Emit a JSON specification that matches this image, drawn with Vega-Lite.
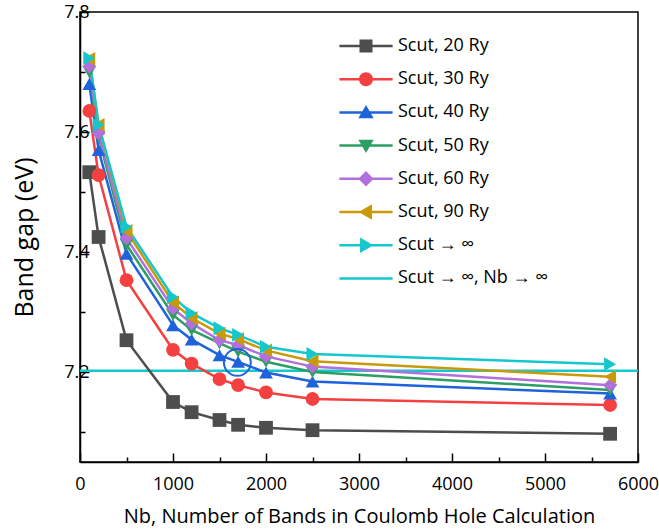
{
  "$schema": "https://vega.github.io/schema/vega-lite/v6.json",
  "autosize": {"type": "none"},
  "padding": {"left": 80, "top": 12, "right": 21, "bottom": 67},
  "width": 558,
  "height": 450,
  "background": "white",
  "config": {
    "font": "Open Sans",
    "view": {"stroke": "black", "strokeWidth": 1.5},
    "axis": {
      "grid": false,
      "domainColor": "black",
      "domainWidth": 1.5,
      "tickColor": "black",
      "tickWidth": 1.5,
      "labelColor": "black",
      "titleColor": "black",
      "labelFont": "Open Sans",
      "titleFont": "Open Sans",
      "labelFontSize": 18,
      "titleFontSize": 20,
      "titleFontWeight": "normal",
      "labelFlush": false
    }
  },
  "datasets": {
    "gaps": [
      {"series": "Scut, 20 Ry", "nb": 100, "gap": 7.533},
      {"series": "Scut, 20 Ry", "nb": 200, "gap": 7.425},
      {"series": "Scut, 20 Ry", "nb": 500, "gap": 7.253},
      {"series": "Scut, 20 Ry", "nb": 1000, "gap": 7.150},
      {"series": "Scut, 20 Ry", "nb": 1200, "gap": 7.133},
      {"series": "Scut, 20 Ry", "nb": 1500, "gap": 7.120},
      {"series": "Scut, 20 Ry", "nb": 1700, "gap": 7.112},
      {"series": "Scut, 20 Ry", "nb": 2000, "gap": 7.107},
      {"series": "Scut, 20 Ry", "nb": 2500, "gap": 7.103},
      {"series": "Scut, 20 Ry", "nb": 5700, "gap": 7.097},
      {"series": "Scut, 30 Ry", "nb": 100, "gap": 7.635},
      {"series": "Scut, 30 Ry", "nb": 200, "gap": 7.528},
      {"series": "Scut, 30 Ry", "nb": 500, "gap": 7.353},
      {"series": "Scut, 30 Ry", "nb": 1000, "gap": 7.237},
      {"series": "Scut, 30 Ry", "nb": 1200, "gap": 7.214},
      {"series": "Scut, 30 Ry", "nb": 1500, "gap": 7.188},
      {"series": "Scut, 30 Ry", "nb": 1700, "gap": 7.178},
      {"series": "Scut, 30 Ry", "nb": 2000, "gap": 7.166},
      {"series": "Scut, 30 Ry", "nb": 2500, "gap": 7.155},
      {"series": "Scut, 30 Ry", "nb": 5700, "gap": 7.145},
      {"series": "Scut, 40 Ry", "nb": 100, "gap": 7.680},
      {"series": "Scut, 40 Ry", "nb": 200, "gap": 7.570},
      {"series": "Scut, 40 Ry", "nb": 500, "gap": 7.397},
      {"series": "Scut, 40 Ry", "nb": 1000, "gap": 7.278},
      {"series": "Scut, 40 Ry", "nb": 1200, "gap": 7.254},
      {"series": "Scut, 40 Ry", "nb": 1500, "gap": 7.228},
      {"series": "Scut, 40 Ry", "nb": 1700, "gap": 7.217},
      {"series": "Scut, 40 Ry", "nb": 2000, "gap": 7.199},
      {"series": "Scut, 40 Ry", "nb": 2500, "gap": 7.184},
      {"series": "Scut, 40 Ry", "nb": 5700, "gap": 7.164},
      {"series": "Scut, 50 Ry", "nb": 100, "gap": 7.700},
      {"series": "Scut, 50 Ry", "nb": 200, "gap": 7.592},
      {"series": "Scut, 50 Ry", "nb": 500, "gap": 7.412},
      {"series": "Scut, 50 Ry", "nb": 1000, "gap": 7.295},
      {"series": "Scut, 50 Ry", "nb": 1200, "gap": 7.270},
      {"series": "Scut, 50 Ry", "nb": 1500, "gap": 7.248},
      {"series": "Scut, 50 Ry", "nb": 1700, "gap": 7.234},
      {"series": "Scut, 50 Ry", "nb": 2000, "gap": 7.217},
      {"series": "Scut, 50 Ry", "nb": 2500, "gap": 7.200},
      {"series": "Scut, 50 Ry", "nb": 5700, "gap": 7.170},
      {"series": "Scut, 60 Ry", "nb": 100, "gap": 7.709},
      {"series": "Scut, 60 Ry", "nb": 200, "gap": 7.598},
      {"series": "Scut, 60 Ry", "nb": 500, "gap": 7.423},
      {"series": "Scut, 60 Ry", "nb": 1000, "gap": 7.306},
      {"series": "Scut, 60 Ry", "nb": 1200, "gap": 7.281},
      {"series": "Scut, 60 Ry", "nb": 1500, "gap": 7.253},
      {"series": "Scut, 60 Ry", "nb": 1700, "gap": 7.245},
      {"series": "Scut, 60 Ry", "nb": 2000, "gap": 7.226},
      {"series": "Scut, 60 Ry", "nb": 2500, "gap": 7.209},
      {"series": "Scut, 60 Ry", "nb": 5700, "gap": 7.178},
      {"series": "Scut, 90 Ry", "nb": 100, "gap": 7.722},
      {"series": "Scut, 90 Ry", "nb": 200, "gap": 7.612},
      {"series": "Scut, 90 Ry", "nb": 500, "gap": 7.435},
      {"series": "Scut, 90 Ry", "nb": 1000, "gap": 7.316},
      {"series": "Scut, 90 Ry", "nb": 1200, "gap": 7.290},
      {"series": "Scut, 90 Ry", "nb": 1500, "gap": 7.264},
      {"series": "Scut, 90 Ry", "nb": 1700, "gap": 7.255},
      {"series": "Scut, 90 Ry", "nb": 2000, "gap": 7.236},
      {"series": "Scut, 90 Ry", "nb": 2500, "gap": 7.218},
      {"series": "Scut, 90 Ry", "nb": 5700, "gap": 7.192},
      {"series": "Scut → ∞", "nb": 100, "gap": 7.723},
      {"series": "Scut → ∞", "nb": 200, "gap": 7.612},
      {"series": "Scut → ∞", "nb": 500, "gap": 7.442},
      {"series": "Scut → ∞", "nb": 1000, "gap": 7.325},
      {"series": "Scut → ∞", "nb": 1200, "gap": 7.298},
      {"series": "Scut → ∞", "nb": 1500, "gap": 7.273},
      {"series": "Scut → ∞", "nb": 1700, "gap": 7.262},
      {"series": "Scut → ∞", "nb": 2000, "gap": 7.242},
      {"series": "Scut → ∞", "nb": 2500, "gap": 7.230},
      {"series": "Scut → ∞", "nb": 5700, "gap": 7.213}
    ],
    "limit": [{"series": "Scut → ∞, Nb → ∞", "gap": 7.202}],
    "mark": [{"nb": 1692, "gap": 7.216}]
  },
  "resolve": {"scale": {"shape": "independent", "color": "independent"}},
  "layer": [
    {
      "data": {"name": "limit"},
      "mark": {"type": "rule", "color": "#14c7cc", "strokeWidth": 2.5},
      "encoding": {
        "y": {"field": "gap", "type": "quantitative", "scale": {"domain": [7.05, 7.8], "nice": false, "zero": false}}
      }
    },
    {
      "data": {"name": "gaps"},
      "mark": {"type": "line", "strokeWidth": 2.5},
      "encoding": {
        "x": {"field": "nb", "type": "quantitative",
          "scale": {"domain": [0, 6000], "nice": false},
          "axis": {
            "title": "Nb, Number of Bands in Coulomb Hole Calculation",
            "values": [0, 500, 1000, 1500, 2000, 2500, 3000, 3500, 4000, 4500, 5000, 5500, 6000],
            "format": "d",
            "labelExpr": "datum.value % 1000 === 0 ? datum.label : ''",
            "tickSize": {"condition": {"test": "datum.value % 1000 === 0", "value": -9}, "value": -5},
            "labelPadding": 22,
            "titlePadding": 13
          }
        },
        "y": {"field": "gap", "type": "quantitative",
          "scale": {"domain": [7.05, 7.8], "nice": false, "zero": false},
          "axis": {
            "title": "Band gap (eV)",
            "titleFontSize": 25,
            "values": [7.1, 7.2, 7.3, 7.4, 7.5, 7.6, 7.7, 7.8],
            "format": ".1f",
            "labelExpr": "round(datum.value * 10) % 2 === 0 ? datum.label : ''",
            "tickSize": {"condition": {"test": "round(datum.value * 10) % 2 === 0", "value": -9}, "value": -5},
            "labelPadding": 0,
            "titlePadding": 26
          }
        },
        "color": {"field": "series", "type": "nominal", "legend": null,
          "scale": {
            "domain": ["Scut, 20 Ry", "Scut, 30 Ry", "Scut, 40 Ry", "Scut, 50 Ry", "Scut, 60 Ry", "Scut, 90 Ry", "Scut → ∞", "Scut → ∞, Nb → ∞"],
            "range": ["#4d4d4d", "#f44040", "#1e63d9", "#2d9e63", "#b170dc", "#c99a08", "#14c7cc", "#14c7cc"]
          }
        },
        "detail": {"field": "series"}
      }
    },
    {
      "data": {"name": "gaps"},
      "mark": {"type": "point", "filled": true, "size": 190, "opacity": 1},
      "encoding": {
        "x": {"field": "nb", "type": "quantitative"},
        "y": {"field": "gap", "type": "quantitative"},
        "color": {"field": "series", "type": "nominal", "legend": null,
          "scale": {
            "domain": ["Scut, 20 Ry", "Scut, 30 Ry", "Scut, 40 Ry", "Scut, 50 Ry", "Scut, 60 Ry", "Scut, 90 Ry", "Scut → ∞", "Scut → ∞, Nb → ∞"],
            "range": ["#4d4d4d", "#f44040", "#1e63d9", "#2d9e63", "#b170dc", "#c99a08", "#14c7cc", "#14c7cc"]
          }
        },
        "shape": {"field": "series", "type": "nominal", "legend": null,
          "scale": {
            "domain": ["Scut, 20 Ry", "Scut, 30 Ry", "Scut, 40 Ry", "Scut, 50 Ry", "Scut, 60 Ry", "Scut, 90 Ry", "Scut → ∞", "Scut → ∞, Nb → ∞"],
            "range": ["square", "circle", "triangle-up", "triangle-down", "diamond", "triangle-left", "triangle-right", "circle"]
          }
        }
      }
    },
    {
      "data": {"name": "mark"},
      "mark": {"type": "point", "filled": false, "size": 720, "stroke": "#1e63d9", "strokeWidth": 2, "opacity": 1},
      "encoding": {
        "x": {"field": "nb", "type": "quantitative"},
        "y": {"field": "gap", "type": "quantitative"}
      }
    },
    {
      "data": {"name": "gaps"},
      "transform": [{"filter": "false"}],
      "mark": {"type": "point", "filled": true, "opacity": 1},
      "encoding": {
        "x": {"field": "nb", "type": "quantitative"},
        "y": {"field": "gap", "type": "quantitative"},
        "color": {"field": "series", "type": "nominal",
          "scale": {
            "domain": ["Scut, 20 Ry", "Scut, 30 Ry", "Scut, 40 Ry", "Scut, 50 Ry", "Scut, 60 Ry", "Scut, 90 Ry", "Scut → ∞", "Scut → ∞, Nb → ∞"],
            "range": ["#4d4d4d", "#f44040", "#1e63d9", "#2d9e63", "#b170dc", "#c99a08", "#14c7cc", "#14c7cc"]
          },
          "legend": {
            "title": null,
            "orient": "none",
            "legendX": 277,
            "legendY": 25,
            "padding": 0,
            "symbolSize": 196,
            "symbolStrokeWidth": 0,
            "symbolOpacity": 1,
            "labelOffset": 23,
            "rowPadding": 15.2,
            "labelFont": "Open Sans",
            "labelFontSize": 18,
            "labelColor": "black",
            "labelLimit": 300
          }
        },
        "shape": {"field": "series", "type": "nominal",
          "scale": {
            "domain": ["Scut, 20 Ry", "Scut, 30 Ry", "Scut, 40 Ry", "Scut, 50 Ry", "Scut, 60 Ry", "Scut, 90 Ry", "Scut → ∞", "Scut → ∞, Nb → ∞"],
            "range": [
              "M-3.8,-0.18H3.8V0.18H-3.8Z M-0.93,-0.93H0.93V0.93H-0.93Z",
              "M-3.8,-0.18H3.8V0.18H-3.8Z M-1,0A1,1,0,1,1,1,0A1,1,0,1,1,-1,0Z",
              "M-3.8,-0.18H3.8V0.18H-3.8Z M0,-1.05L1.1,0.85H-1.1Z",
              "M-3.8,-0.18H3.8V0.18H-3.8Z M-1.1,-0.85H1.1L0,1.05Z",
              "M-3.8,-0.18H3.8V0.18H-3.8Z M0,-1.1L1.1,0L0,1.1L-1.1,0Z",
              "M-3.8,-0.18H3.8V0.18H-3.8Z M-1.05,0L0.85,-1.1V1.1Z",
              "M-3.8,-0.18H3.8V0.18H-3.8Z M1.05,0L-0.85,1.1V-1.1Z",
              "M-3.8,-0.18H3.8V0.18H-3.8Z"
            ]
          },
          "legend": {
            "title": null,
            "orient": "none",
            "legendX": 277,
            "legendY": 25,
            "padding": 0,
            "symbolSize": 196,
            "symbolStrokeWidth": 0,
            "symbolOpacity": 1,
            "labelOffset": 23,
            "rowPadding": 15.2,
            "labelFont": "Open Sans",
            "labelFontSize": 18,
            "labelColor": "black",
            "labelLimit": 300
          }
        }
      }
    }
  ]
}
